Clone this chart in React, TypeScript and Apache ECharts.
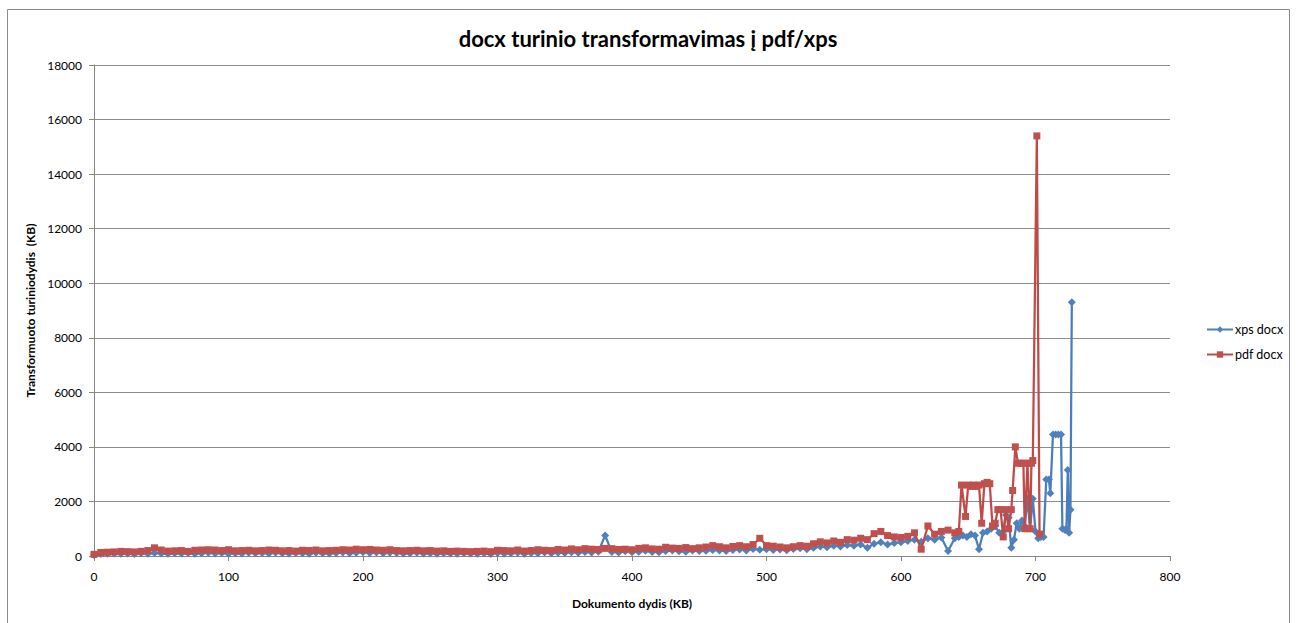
import React, { useEffect, useRef } from "react";
import * as echarts from "echarts";

const chartTitle = "docx turinio transformavimas į pdf/xps";
const xAxisName = "Dokumento dydis (KB)";
const yAxisName = "Transformuoto turiniodydis  (KB)";
const seriesNames = ["xps docx", "pdf docx"];

const bodySizes = [
  0, 5, 10, 15, 20, 25, 30, 35, 40, 45, 50, 55, 60, 65, 70, 75, 80, 85, 90, 95,
  100, 105, 110, 115, 120, 125, 130, 135, 140, 145, 150, 155, 160, 165, 170, 175, 180, 185, 190, 195,
  200, 205, 210, 215, 220, 225, 230, 235, 240, 245, 250, 255, 260, 265, 270, 275, 280, 285, 290, 295,
  300, 305, 310, 315, 320, 325, 330, 335, 340, 345, 350, 355, 360, 365, 370, 375, 380, 385, 390, 395,
  400, 405, 410, 415, 420, 425, 430, 435, 440, 445, 450, 455, 460, 465, 470, 475, 480, 485, 490, 495,
  500, 505, 510, 515, 520, 525, 530, 535, 540, 545, 550, 555, 560, 565, 570, 575, 580, 585, 590, 595,
  600, 605, 610, 615, 620, 625, 630, 635, 640,
];

const pdfBody = [
  60, 130, 140, 150, 170, 160, 150, 170, 200, 300, 220, 180, 190, 200, 170, 210, 220, 230, 220, 200,
  230, 190, 200, 210, 190, 200, 220, 210, 190, 200, 180, 210, 200, 220, 190, 200, 210, 230, 220, 250,
  230, 240, 220, 210, 230, 200, 190, 200, 210, 190, 200, 180, 190, 170, 180, 170, 160, 170, 180, 160,
  210, 200, 190, 220, 180, 200, 230, 210, 200, 240, 220, 260, 230, 270, 250, 240, 280, 270, 240, 250,
  230, 280, 300, 260, 250, 320, 290, 280, 310, 270, 300, 330, 380, 340, 300, 350, 380, 340, 420, 650,
  380, 360, 330, 300, 340, 380, 360, 450, 520, 480, 550, 500, 600, 580, 650, 600, 820, 900, 750, 700,
  680, 720, 850, 250, 1100, 800, 900, 950, 850,
];

const xpsBody = [
  40, 70, 80, 90, 80, 90, 70, 100, 80, 110, 90, 80, 100, 90, 110, 80, 100, 120, 90, 110,
  80, 100, 90, 120, 100, 110, 90, 120, 100, 90, 110, 100, 80, 120, 100, 90, 110, 130, 100, 120,
  140, 110, 130, 100, 120, 110, 90, 100, 120, 90, 100, 80, 100, 90, 80, 100, 90, 80, 100, 70,
  110, 90, 100, 120, 80, 110, 100, 130, 100, 120, 110, 140, 120, 150, 130, 160, 750, 150, 130, 170,
  140, 160, 190, 150, 140, 180, 200, 170, 160, 200, 180, 190, 220, 200, 180, 220, 240, 200, 260, 230,
  250, 220, 240, 210, 260, 280, 250, 300, 350, 320, 380, 350, 400, 380, 420, 300, 450, 500, 420, 480,
  500, 550, 600, 520, 650, 600, 680, 180, 650,
];

const pdfTailSizes = [
  643, 645, 648, 650, 652, 654, 656, 658, 660, 662, 664, 666, 668, 670, 672, 674, 676, 678, 680, 682,
  683, 685, 687, 689, 691, 692, 694, 696, 697, 698, 701, 703,
];
const pdfTail = [
  900, 2600, 1450, 2600, 2550, 2600, 2550, 2600, 1200, 2650, 2700, 2650, 1100, 1200, 1700, 1700, 700, 1700, 1000, 1700,
  2400, 4000, 3400, 3400, 3400, 1000, 3400, 1000, 3400, 3500, 15400, 800,
];

const xpsTailSizes = [
  643, 646, 649, 652, 655, 658, 661, 664, 667, 670, 673, 676, 678, 680, 682, 684, 686, 688, 690, 692,
  694, 696, 698, 700, 702, 704, 706, 708, 710, 711, 713, 715, 717, 719, 720, 722, 723, 724, 725, 726,
  727,
];
const xpsTail = [
  700, 750, 700, 800, 750, 250, 850, 900, 1000, 1100, 850, 900, 1500, 1400, 300, 600, 1200, 1000, 1300, 1100,
  2100, 1000, 2100, 900, 650, 700, 700, 2800, 2800, 2300, 4450, 4450, 4450, 4450, 1000, 950, 1000, 3150, 850, 1700,
  9300,
];

const xTicks = { min: 0, max: 800, interval: 100 };
const yTicks = { min: 0, max: 18000, interval: 2000 };

const FONT = "Lato, 'Open Sans', sans-serif";

function pairs(xs: number[], ys: number[]) {
  return xs.map((x, i) => [x, ys[i]]);
}

export default function App() {
  const ref = useRef<HTMLDivElement>(null);
  useEffect(() => {
    if (!ref.current) return;
    const chart = echarts.init(ref.current, null, { renderer: "svg" });
    const xpsData = pairs(bodySizes, xpsBody).concat(pairs(xpsTailSizes, xpsTail));
    const pdfData = pairs(bodySizes, pdfBody).concat(pairs(pdfTailSizes, pdfTail));
    chart.setOption({
      animation: false,
      backgroundColor: "#ffffff",
      title: {
        text: chartTitle,
        left: "center",
        top: 22,
        textStyle: { fontFamily: FONT, fontSize: 22, fontWeight: "bold", color: "#000" },
      },
      graphic: [
        {
          type: "rect",
          shape: { x: 7.5, y: 9.5, width: 1282, height: 640 },
          style: { fill: "none", stroke: "#8a8a8a", lineWidth: 1 },
          silent: true,
        },
      ],
      legend: {
        orient: "vertical",
        left: 1201,
        top: 318,
        itemWidth: 26,
        itemHeight: 8,
        itemGap: 12,
        textStyle: { fontFamily: FONT, fontSize: 12.5, color: "#000", padding: [0, 0, 0, -3] },
        data: seriesNames,
      },
      grid: { left: 94, right: 126, top: 65, bottom: 67, containLabel: false },
      xAxis: {
        type: "value",
        min: xTicks.min,
        max: xTicks.max,
        interval: xTicks.interval,
        name: xAxisName,
        nameLocation: "middle",
        nameGap: 41,
        nameTextStyle: { fontFamily: FONT, fontSize: 12, fontWeight: "bold", color: "#000" },
        axisLine: { show: true, onZero: false, lineStyle: { color: "#868686", width: 1 } },
        axisTick: { show: true, length: 5, lineStyle: { color: "#868686" } },
        axisLabel: { fontFamily: FONT, fontSize: 12, color: "#000", margin: 14, formatter: (v: number) => String(v) },
        splitLine: { show: false },
      },
      yAxis: {
        type: "value",
        min: yTicks.min,
        max: yTicks.max,
        interval: yTicks.interval,
        name: yAxisName,
        nameLocation: "middle",
        nameGap: 56,
        nameTextStyle: { fontFamily: FONT, fontSize: 12, fontWeight: "bold", color: "#000" },
        axisLine: { show: true, lineStyle: { color: "#868686", width: 1 } },
        axisTick: { show: true, length: 5, lineStyle: { color: "#868686" } },
        axisLabel: { fontFamily: FONT, fontSize: 12, color: "#000", margin: 12, formatter: (v: number) => String(v) },
        splitLine: { show: true, lineStyle: { color: "#8c8c8c", width: 1 } },
      },
      series: [
        {
          name: seriesNames[0],
          type: "line",
          data: xpsData,
          symbol: "diamond",
          symbolSize: 8,
          showAllSymbol: true,
          itemStyle: { color: "#4F81BD" },
          lineStyle: { color: "#4A7EBB", width: 2.25 },
          z: 2,
        },
        {
          name: seriesNames[1],
          type: "line",
          data: pdfData,
          symbol: "rect",
          symbolSize: 7,
          showAllSymbol: true,
          itemStyle: { color: "#C0504D" },
          lineStyle: { color: "#BE4B48", width: 2.25 },
          z: 3,
        },
      ],
    });
    return () => chart.dispose();
  }, []);
  return (
    <div
      ref={ref}
      style={{ position: "fixed", left: 0, top: 0, width: 1296, height: 623 }}
    />
  );
}
